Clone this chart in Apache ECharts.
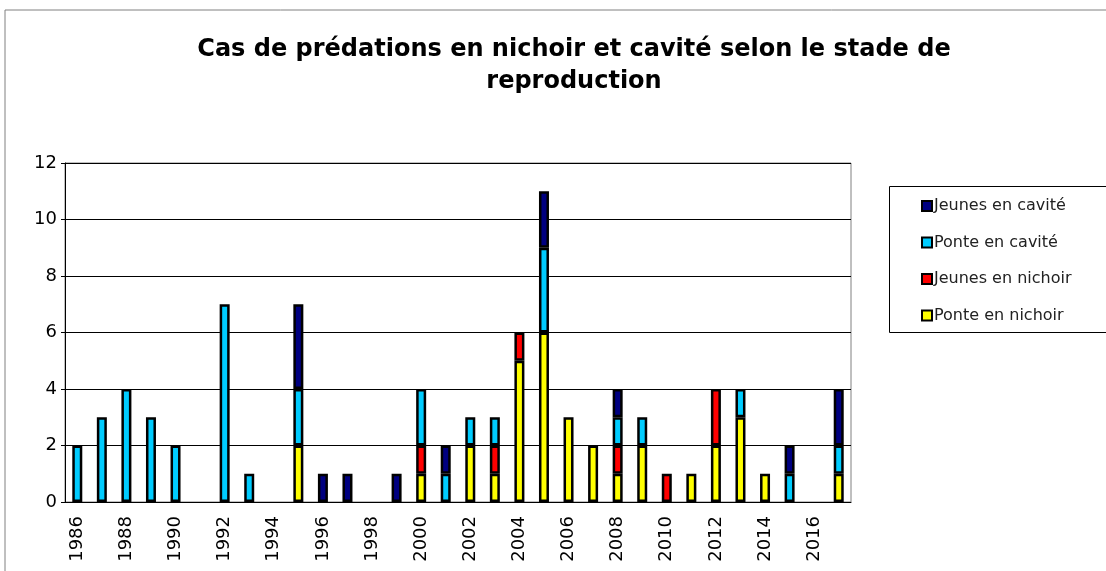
<!DOCTYPE html>
<html>
<head>
<meta charset="utf-8">
<script src="https://cdn.jsdelivr.net/npm/echarts@6/dist/echarts.min.js"></script>
<style>
  html, body { margin: 0; padding: 0; background: #fff; }
  #chart { width: 1106px; height: 571px; }
</style>
</head>
<body>
<div id="chart"></div>
<script>
const years = ['1986','1987','1988','1989','1990','1991','1992','1993','1994','1995','1996','1997','1998','1999','2000','2001','2002','2003','2004','2005','2006','2007','2008','2009','2010','2011','2012','2013','2014','2015','2016','2017']
// valeurs par année (empilées du bas vers le haut)
const ponteNichoir   = [0,0,0,0,0,0,0,0,0,2,0,0,0,0,1,0,2,1,5,6,3,2,1,2,0,1,2,3,1,0,0,1]
const jeunesNichoir  = [0,0,0,0,0,0,0,0,0,0,0,0,0,0,1,0,0,1,1,0,0,0,1,0,1,0,2,0,0,0,0,0]
const ponteCavite    = [2,3,4,3,2,0,7,1,0,2,0,0,0,0,2,1,1,1,0,3,0,0,1,1,0,0,0,1,0,1,0,1]
const jeunesCavite   = [0,0,0,0,0,0,0,0,0,3,1,1,0,1,0,1,0,0,0,2,0,0,1,0,0,0,0,0,0,1,0,2]
const yTicks = [0, 2, 4, 6, 8, 10, 12]

const chart = echarts.init(document.getElementById('chart'))

const mkSerie = (name, data, color) => ({
  name,
  type: 'bar',
  stack: 'total',
  data: data.map(v => v === 0 ? '-' : v),
  barWidth: 10,
  itemStyle: {color, borderColor: '#000', borderWidth: 2.5},
  emphasis: {disabled: true}
})

chart.setOption({
  animation: false,
  textStyle: {fontFamily: 'DejaVu Sans, sans-serif'},
  title: {
    text: 'Cas de prédations en nichoir et cavité selon le stade de\nreproduction',
    left: 569,
    top: 29,
    textAlign: 'center',
    textStyle: {fontSize: 24, fontWeight: 'bold', color: '#000', lineHeight: 32, fontFamily: 'DejaVu Sans'}
  },
  graphic: [
    {type: 'rect', shape: {x: 5, y: 10, width: 1200, height: 700}, style: {fill: 'none', stroke: '#808080', lineWidth: 1}, silent: true},
    {type: 'rect', shape: {x: 889.5, y: 186.5, width: 300, height: 146}, style: {fill: 'none', stroke: '#000', lineWidth: 1}, silent: true}
  ],
  legend: {
    orient: 'vertical',
    left: 916,
    top: 193,
    icon: 'rect',
    itemWidth: 10,
    itemHeight: 10,
    itemGap: 20.5,
    selectedMode: false,
    data: ['Jeunes en cavité', 'Ponte en cavité', 'Jeunes en nichoir', 'Ponte en nichoir'],
    textStyle: {fontSize: 16, color: '#222', padding: [0, 0, 0, -3]}
  },
  grid: {
    left: 65, right: 255, top: 163, bottom: 69,
    show: true, borderColor: '#808080', borderWidth: 1, backgroundColor: '#fff'
  },
  xAxis: {
    type: 'category',
    data: years,
    axisLine: {lineStyle: {color: '#000', width: 1}},
    axisTick: {interval: 0, length: 6, lineStyle: {color: '#000'}},
    axisLabel: {interval: 1, rotate: 90, fontSize: 18, color: '#000', margin: 14}
  },
  yAxis: {
    type: 'value',
    min: yTicks[0],
    max: yTicks[yTicks.length - 1],
    interval: 2,
    axisLine: {show: true, lineStyle: {color: '#000'}},
    axisTick: {show: true, length: 4, lineStyle: {color: '#000'}},
    axisLabel: {fontSize: 18, color: '#000', margin: 8},
    splitLine: {lineStyle: {color: '#000', width: 1}}
  },
  series: [
    mkSerie('Ponte en nichoir', ponteNichoir, '#ffff00'),
    mkSerie('Jeunes en nichoir', jeunesNichoir, '#ff0000'),
    mkSerie('Ponte en cavité', ponteCavite, '#00ccff'),
    mkSerie('Jeunes en cavité', jeunesCavite, '#000080')
  ]
})
</script>
</body>
</html>
